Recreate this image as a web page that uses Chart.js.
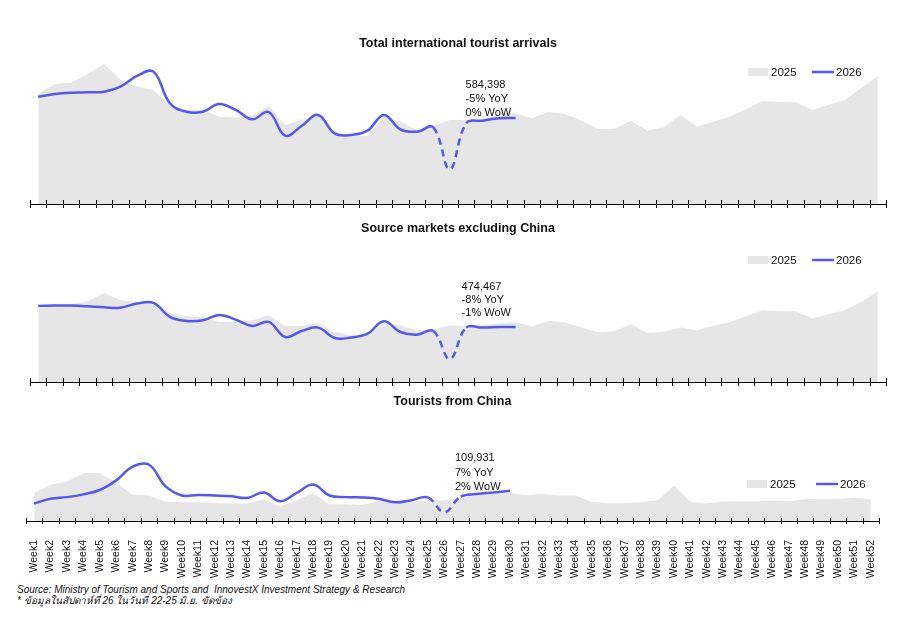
<!DOCTYPE html>
<html>
<head>
<meta charset="utf-8">
<script src="https://cdn.jsdelivr.net/npm/chart.js@4.4.0/dist/chart.umd.min.js"></script>
<style>
  body { margin: 0; width: 901px; height: 623px; background: #fff; position: relative; overflow: hidden; }
  canvas { position: absolute; left: 0; }
  #note { position: absolute; left: 17px; top: 584px; font: 10px/11px "Liberation Sans Narrow", "Liberation Sans", Arial, sans-serif; color: #111; }
  #note i { font-style: italic; }
</style>
</head>
<body>
<canvas id="total" width="901" height="176" style="top:36px"></canvas>
<canvas id="exChina" width="901" height="169" style="top:221px"></canvas>
<canvas id="china" width="901" height="188" style="top:394px"></canvas>
<div id="note"><i>Source: Ministry of Tourism and Sports and &nbsp;InnovestX Investment Strategy &amp; Research</i><br><i>* ข้อมูลในสัปดาห์ที่ 26 ในวันที่ 22-25 มิ.ย. ขัดข้อง</i></div>

<script>
const weeks = [];
for (let i = 1; i <= 52; i++) weeks.push('Week' + i);

// weekly arrivals, thousands
const total2025 = [747, 815, 824, 883, 951, 843, 797, 775, 673, 639, 639, 593, 587, 605, 666, 537, 571, 605, 492, 469,
  462, 593, 559, 503, 530, 571, 571, 571, 616, 616, 582, 625, 612, 566, 510, 510, 566, 498, 521, 605,
  525, 559, 593, 643, 700, 693, 693, 639, 673, 707, 786, 870];
const total2026 = [729, 747, 756, 759, 763, 797, 870, 899, 684, 627, 627, 680, 639, 575, 625, 464, 530, 605, 480, 469,
  498, 605, 507, 491, 521, 236, 548, 566, 582, 584.398];

const exChina2025 = [633, 653, 670, 696, 768, 705, 687, 676, 595, 567, 561, 518, 518, 532, 575, 480, 486, 509, 431, 403,
  417, 509, 489, 446, 452, 489, 480, 489, 509, 515, 480, 526, 515, 469, 429, 437, 498, 423, 434, 469,
  446, 486, 515, 567, 618, 610, 610, 549, 584, 618, 690, 782];
const exChina2026 = [656, 659, 659, 653, 644, 641, 676, 682, 561, 526, 532, 578, 538, 483, 518, 388, 440, 469, 380, 383,
  417, 523, 431, 408, 440, 198, 469, 469, 475, 474.467];

const china2025 = [102, 133, 144, 175, 175, 139, 97, 93, 70, 68, 69, 66, 64, 64, 79, 53, 76, 102, 61, 61,
  58, 72, 70, 68, 76, 76, 86, 93, 99, 102, 95, 98, 93, 93, 69, 65, 65, 69, 76, 129,
  69, 64, 71, 72, 72, 74, 72, 79, 81, 81, 85, 79];
const china2026 = [64, 81, 87, 97, 113, 148, 198, 205, 127, 93, 95, 93, 90, 84, 104, 72, 102, 133, 93, 87,
  86, 81, 68, 76, 86, 32, 89, 98, 104, 109.931];

const totalNote = ['584,398', '-5% YoY', '0% WoW'];
const exChinaNote = ['474,467', '-8% YoY', '-1% WoW'];
const chinaNote = ['109,931', '7% YoY', '2% WoW'];

const FONT = '"Liberation Sans", Arial, sans-serif';
const GREY = '#e6e6e6';
const BLUE = '#5558ef';

// tick marks crossing the axis line
const axisTicks = {
  id: 'axisTicks',
  afterDraw(chart, args, opts) {
    const xs = chart.scales.x;
    const yb = chart.chartArea.bottom;
    const ctx = chart.ctx;
    ctx.save();
    ctx.strokeStyle = '#000';
    ctx.lineWidth = 1;
    ctx.beginPath();
    for (let k = 0; k <= chart.data.labels.length; k++) {
      const px = Math.round(xs.getPixelForValue(k - 0.5)) + 0.5;
      ctx.moveTo(px, yb - opts.up);
      ctx.lineTo(px, yb + opts.down);
    }
    ctx.stroke();
    ctx.restore();
  }
};

const rowLegend = {
  id: 'rowLegend',
  afterDraw(chart, args, opts) {
    const ctx = chart.ctx;
    const area = chart.data.datasets[0];
    const line = chart.data.datasets[1];
    ctx.save();
    ctx.font = '11.5px ' + FONT;
    ctx.textBaseline = 'middle';
    ctx.fillStyle = area.backgroundColor;
    ctx.fillRect(opts.x, opts.y - 4, 20, 8);
    ctx.fillStyle = '#111';
    ctx.fillText(area.label, opts.x + 23, opts.y + 0.5);
    ctx.strokeStyle = line.borderColor;
    ctx.lineWidth = 2.5;
    ctx.beginPath();
    ctx.moveTo(opts.x + opts.gap, opts.y);
    ctx.lineTo(opts.x + opts.gap + 22, opts.y);
    ctx.stroke();
    ctx.fillText(line.label, opts.x + opts.gap + 24, opts.y + 0.5);
    ctx.restore();
  }
};

// latest value label next to the last 2026 point
const lastNote = {
  id: 'lastNote',
  afterDatasetsDraw(chart, args, opts) {
    const pts = chart.getDatasetMeta(1).data;
    const pt = pts[pts.length - 1];
    const ctx = chart.ctx;
    ctx.save();
    ctx.font = '11px ' + FONT;
    ctx.fillStyle = '#111';
    ctx.textAlign = 'left';
    opts.lines.forEach((t, i) => ctx.fillText(t, pt.x + opts.dx, pt.y + opts.dy + i * opts.step));
    ctx.restore();
  }
};

function makeChart(id, title, data2025, data2026, cfg) {
  return new Chart(document.getElementById(id), {
    type: 'line',
    data: {
      labels: weeks,
      datasets: [{
        label: '2025',
        data: data2025,
        backgroundColor: GREY,
        borderWidth: 0,
        fill: 'origin',
        tension: 0,
        pointRadius: 0,
        order: 2
      }, {
        label: '2026',
        data: data2026,
        borderColor: BLUE,
        borderWidth: 2.5,
        fill: false,
        tension: 0.4,
        pointRadius: 0,
        order: 1,
        segment: {
          borderDash: ctx => (ctx.p0DataIndex >= 24 && ctx.p1DataIndex <= 26) ? [7, 5] : undefined
        }
      }]
    },
    options: {
      responsive: false,
      animation: false,
      layout: { padding: cfg.pad },
      scales: {
        x: {
          offset: true,
          grid: { display: false, offset: true },
          border: { display: true, color: '#000', width: 1 },
          ticks: {
            display: cfg.labels,
            autoSkip: false,
            minRotation: 90,
            maxRotation: 90,
            padding: 11,
            color: '#111',
            font: { family: '"Liberation Sans Narrow", ' + FONT, size: 10.5 }
          },
          afterFit: s => { s.height = cfg.axisH; }
        },
        y: { display: false, min: 0, max: cfg.yMax }
      },
      plugins: {
        legend: { display: false },
        tooltip: { enabled: false },
        title: {
          display: true,
          text: title,
          color: '#111',
          font: { family: FONT, size: 12.5, weight: 'bold' },
          padding: { top: 0, bottom: 8 }
        },
        axisTicks: cfg.ticks,
        rowLegend: cfg.legend,
        lastNote: cfg.note
      }
    },
    plugins: [axisTicks, rowLegend, lastNote]
  });
}

makeChart('total', 'Total international tourist arrivals', total2025, total2026, {
  pad: { left: 30, right: 15, top: 0, bottom: 4 },
  axisH: 4, labels: false, yMax: 985,
  ticks: { up: 4, down: 4 },
  legend: { x: 748, y: 36, gap: 64 },
  note: { lines: totalNote, dx: -50, dy: -30, step: 14 }
});

makeChart('exChina', 'Source markets excluding China', exChina2025, exChina2026, {
  pad: { left: 30, right: 15, top: 0, bottom: 4 },
  axisH: 4, labels: false, yMax: 1190,
  ticks: { up: 4, down: 4 },
  legend: { x: 748, y: 39, gap: 64 },
  note: { lines: exChinaNote, dx: -54, dy: -36.5, step: 13 }
});

makeChart('china', 'Tourists from China', china2025, china2026, {
  pad: { left: 26, right: 22, top: 0, bottom: 0 },
  axisH: 61, labels: true, yMax: 379,
  ticks: { up: 3, down: 3 },
  legend: { x: 747, y: 90, gap: 69 },
  note: { lines: chinaNote, dx: -55, dy: -29.5, step: 14.2 }
});
</script>
</body>
</html>
